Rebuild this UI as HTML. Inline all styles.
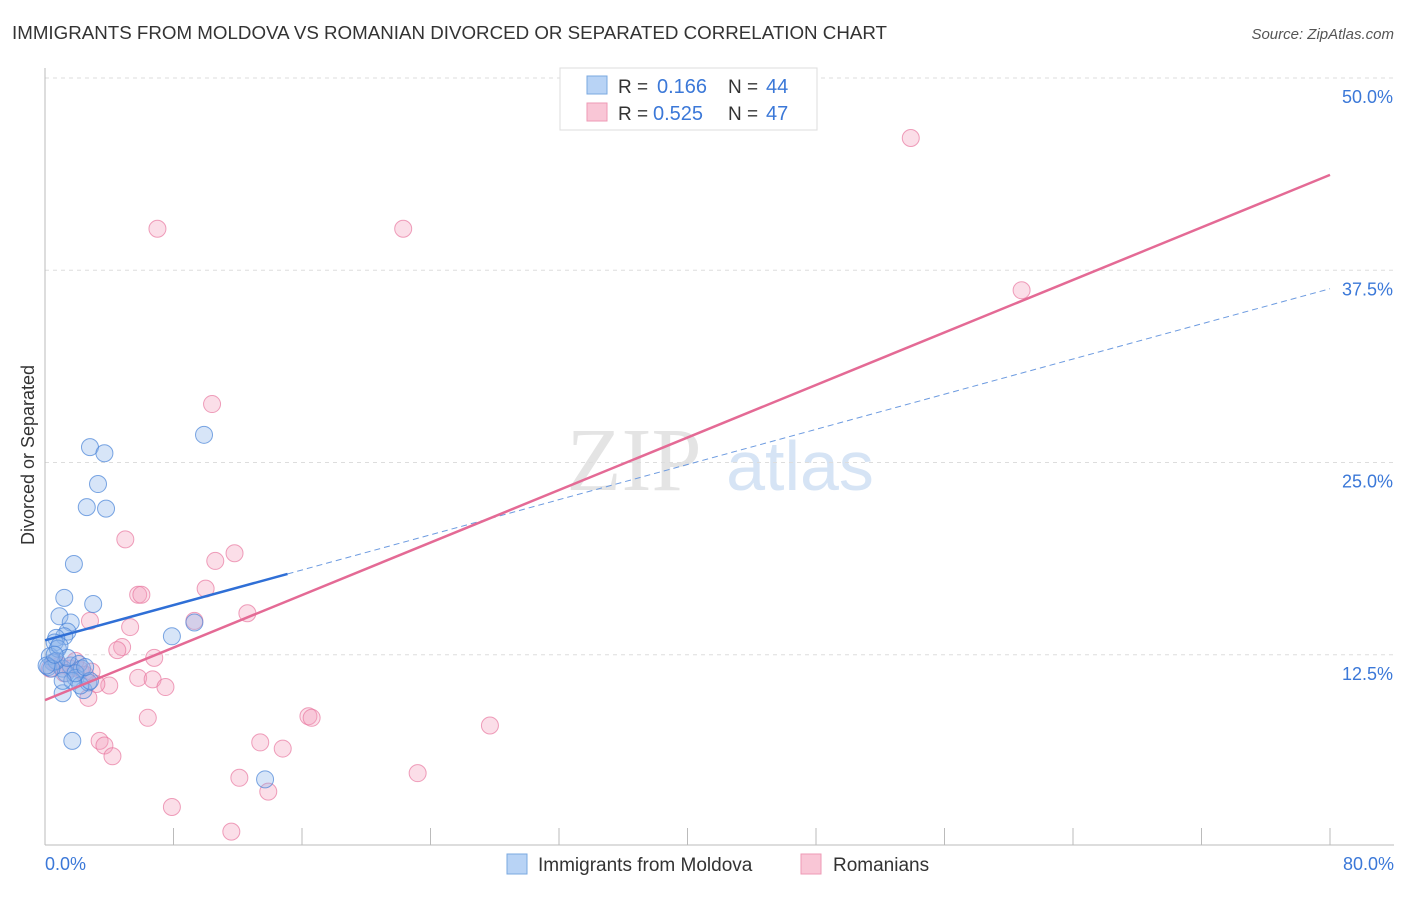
<!DOCTYPE html>
<html><head><meta charset="utf-8"><style>
body{margin:0;background:#fff;font-family:"Liberation Sans",sans-serif}
</style></head><body>
<svg width="1406" height="892" xmlns="http://www.w3.org/2000/svg" font-family="Liberation Sans, sans-serif">
<text x="12" y="39" font-size="18" fill="#333" textLength="875" lengthAdjust="spacingAndGlyphs">IMMIGRANTS FROM MOLDOVA VS ROMANIAN DIVORCED OR SEPARATED CORRELATION CHART</text>
<text x="1394" y="39" font-size="15" fill="#555" font-style="italic" text-anchor="end">Source: ZipAtlas.com</text>
<text x="634" y="490" font-size="90" fill="#e4e4e4" font-family="Liberation Serif, serif" text-anchor="middle">ZIP</text>
<text x="800" y="490" font-size="70" fill="#d6e4f5" text-anchor="middle">atlas</text>
<g id="grid"></g><g id="axes"></g><g id="pts"></g><g id="lines"></g>
<text transform="translate(34,455) rotate(-90)" font-size="18" fill="#333" text-anchor="middle">Divorced or Separated</text>
<g>
<rect x="560" y="68" width="257" height="62" fill="#fff" stroke="#ddd"/>
<rect x="587" y="76" width="20" height="18" fill="#b8d3f5" stroke="#7aa8e0"/>
<rect x="587" y="103" width="20" height="18" fill="#f9c6d6" stroke="#ee9ab5"/>
<text x="618" y="93" font-size="19" fill="#333">R =</text>
<text x="657" y="93" font-size="20" fill="#3b78d8">0.166</text>
<text x="728" y="93" font-size="19" fill="#333">N =</text>
<text x="766" y="93" font-size="20" fill="#3b78d8">44</text>
<text x="618" y="120" font-size="19" fill="#333">R =</text>
<text x="653" y="120" font-size="20" fill="#3b78d8">0.525</text>
<text x="728" y="120" font-size="19" fill="#333">N =</text>
<text x="766" y="120" font-size="20" fill="#3b78d8">47</text>
</g>
<g>
<rect x="507" y="854" width="20" height="20" fill="#b8d3f5" stroke="#7aa8e0"/>
<text x="538" y="871" font-size="19" fill="#333">Immigrants from Moldova</text>
<rect x="801" y="854" width="20" height="20" fill="#f9c6d6" stroke="#ee9ab5"/>
<text x="833" y="871" font-size="19" fill="#333">Romanians</text>
</g>
</svg>
<script>
const yTicks=[12.5,25,37.5,50];
const yTickLabels=["12.5%","25.0%","37.5%","50.0%"];
const xTickLabels=["0.0%","80.0%"];
const blueX=[2.8,3.7,3.3,2.6,3.8,1.8,1.2,3.0,0.9,1.6,1.4,1.2,0.7,0.6,9.9,7.9,9.3,13.7,1.7,1.1,2.4,0.3,0.5,0.2,0.8,1.1,1.6,2.1,2.3,1.3,1.9,1.7,2.7,0.7,0.9,0.4,0.1,2.2,2.8,1.4,0.6,1.9,2.5,1.1];
const blueY=[26.0,25.6,23.6,22.1,22.0,18.4,16.2,15.8,15.0,14.6,14.0,13.7,13.6,13.3,26.8,13.7,14.6,4.4,6.9,10.0,10.2,12.4,12.0,11.7,12.9,11.6,11.8,11.9,11.6,11.3,11.0,10.8,10.7,12.1,13.1,11.6,11.8,10.5,10.8,12.3,12.5,11.3,11.7,10.8];
const pinkX=[53.9,7.0,22.3,60.8,10.4,5.0,11.8,10.6,10.0,5.8,6.0,12.6,9.3,2.8,5.3,4.8,4.5,6.8,5.8,6.7,7.5,4.0,3.2,2.7,6.4,16.4,16.6,27.7,13.4,3.4,3.7,4.2,14.8,12.1,23.2,13.9,7.9,11.6,0.9,1.6,2.2,0.6,1.2,1.9,2.5,0.3,2.9];
const pinkY=[46.1,40.2,40.2,36.2,28.8,20.0,19.1,18.6,16.8,16.4,16.4,15.2,14.7,14.7,14.3,13.0,12.8,12.3,11.0,10.9,10.4,10.5,10.6,9.7,8.4,8.5,8.4,7.9,6.8,6.9,6.6,5.9,6.4,4.5,4.8,3.6,2.6,1.0,11.8,11.6,11.5,12.0,11.3,12.1,11.2,11.6,11.4];
const blueTrend=[13.44,36.3], pinkTrend=[9.55,43.7];
const X=v=>45+v*(1285/80), Y=v=>847-v*(769/50);
const NS="http://www.w3.org/2000/svg";
function mk(p,t,a){const e=document.createElementNS(NS,t);for(const k in a)e.setAttribute(k,a[k]);document.getElementById(p).appendChild(e);return e;}
yTicks.forEach((t,i)=>{
 const l=mk('grid','line',{x1:45,x2:1394,y1:Y(t),y2:Y(t),stroke:'#ddd','stroke-dasharray':'4,4'});
 
 
 const tx=mk('grid','text',{x:1393,y:Y(t)+25,'font-size':18,fill:'#3b78d8','text-anchor':'end'});
 tx.textContent=yTickLabels[i];
 
 
});
const ax=mk('axes','line',{x1:45,x2:45,y1:68,y2:845,stroke:'#bbb'});


const bx=mk('axes','line',{x1:45,x2:1394,y1:845,y2:845,stroke:'#bbb'});


for(let i=1;i<=10;i++){const tk=mk('axes','line',{x1:X(i*8),x2:X(i*8),y1:828,y2:845,stroke:'#bbb'});
 
 }
[[0,'start',45],[80,'end',1394]].forEach((d,i)=>{const t=mk('axes','text',{x:d[2],y:870,'font-size':18,fill:'#3b78d8','text-anchor':d[1]});t.textContent=xTickLabels[i];
 
 });
pinkX.forEach((x,i)=>{const c=mk('pts','circle',{cx:X(x),cy:Y(pinkY[i]),r:8.5,fill:'rgba(244,160,188,0.35)',stroke:'rgba(232,120,160,0.7)','stroke-width':1});
 
 });
blueX.forEach((x,i)=>{const c=mk('pts','circle',{cx:X(x),cy:Y(blueY[i]),r:8.5,fill:'rgba(140,180,235,0.35)',stroke:'rgba(70,130,215,0.7)','stroke-width':1});
 
 });
const by=x=>blueTrend[0]+(blueTrend[1]-blueTrend[0])*x/80;
const l1=mk('lines','line',{x1:X(0),y1:Y(by(0)),x2:X(15.1),y2:Y(by(15.1)),stroke:'#2f6fd6','stroke-width':2.5});


const l2=mk('lines','line',{x1:X(15.1),y1:Y(by(15.1)),x2:X(80),y2:Y(by(80)),stroke:'#6d9be0','stroke-width':1,'stroke-dasharray':'6,4'});


const l3=mk('lines','line',{x1:X(0),y1:Y(pinkTrend[0]),x2:X(80),y2:Y(pinkTrend[1]),stroke:'#e46a95','stroke-width':2.5});


</script>
</body></html>
